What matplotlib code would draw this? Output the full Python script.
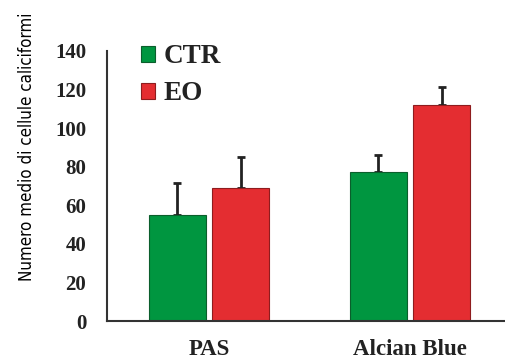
import matplotlib.pyplot as plt
import numpy as np

categories = ["PAS", "Alcian Blue"]
series = ["CTR", "EO"]
ctr_vals = [55, 77]
ctr_err = [16.5, 9]
eo_vals = [69, 112]
eo_err = [16, 9.5]
yticks = [0, 20, 40, 60, 80, 100, 120, 140]

colors = ["#009640", "#E42D31"]
edges = ["#0b5e2c", "#8e1c1e"]

plt.rcParams['font.family'] = ['Liberation Serif', 'DejaVu Serif']

fig = plt.figure(figsize=(5.06, 3.59), dpi=100)
ax = fig.add_axes([0.2115, 0.1058, 0.7885, 0.7522])

x = np.arange(len(categories))
w = 0.284
off = 0.0155 + w / 2
for i, (vals, err) in enumerate([(ctr_vals, ctr_err), (eo_vals, eo_err)]):
    pos = x + (-off if i == 0 else off)
    ax.bar(pos, vals, width=w, color=colors[i], edgecolor=edges[i],
           linewidth=0.8, label=series[i], zorder=2)
    ax.errorbar(pos, vals, yerr=[np.zeros(len(err)), err], fmt='none',
                ecolor='#222222', elinewidth=2, capsize=3, capthick=2, zorder=1)

ax.set_xlim(-0.507, 1.478)
ax.set_ylim(0, 140)
ax.set_yticks(yticks)
ax.set_xticks(x)
ax.set_xticklabels(categories, fontsize=16.5, fontweight='bold', color='#222222')
ax.tick_params(axis='y', length=0, pad=15, labelsize=15, labelcolor='#222222')
ax.tick_params(axis='x', length=0, pad=13)
for lab in ax.get_yticklabels():
    lab.set_fontweight('bold')

for s in ['top', 'right']:
    ax.spines[s].set_visible(False)
for s in ['left', 'bottom']:
    ax.spines[s].set_color('#333333')
    ax.spines[s].set_linewidth(1.5)

fig.text(0.053, 0.59, "Numero medio di cellule caliciformi", rotation=90,
         ha='center', va='center', fontsize=12.2, fontstretch='condensed',
         family=['DejaVu Sans'])

leg = ax.legend(loc='upper left', bbox_to_anchor=(0.057, 1.065), frameon=False,
                prop={'family': 'Liberation Serif', 'weight': 'bold', 'size': 19.5},
                handlelength=0.55, handleheight=0.55, handletextpad=0.3,
                labelspacing=0.45, borderaxespad=0)
for t in leg.get_texts():
    t.set_color('#222222')

fig.savefig("out.png", dpi=100)
